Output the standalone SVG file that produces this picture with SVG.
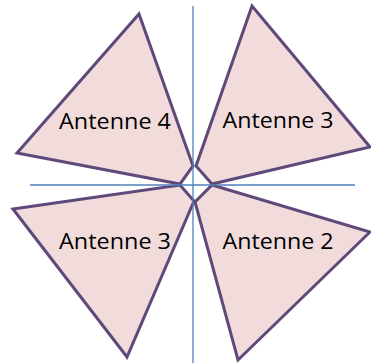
<svg xmlns="http://www.w3.org/2000/svg" width="371" height="363" viewBox="0 0 371 363">
<style>
.ant{fill:#F2DCDB;stroke:#5F497A;stroke-width:3;stroke-linejoin:miter}
.lbl{font-family:"Open Sans","Liberation Sans",sans-serif;font-size:22px;fill:#000;text-anchor:middle}
.axis{stroke:#4F81BD;stroke-width:1.3;fill:none}
</style>
<rect width="371" height="363" fill="#fff"/>
<g id="antenne4">
<polygon class="ant" points="139,14 193,166 180,184 17,153"/>
<text class="lbl" x="115" y="129" textLength="112" lengthAdjust="spacingAndGlyphs">Antenne 4</text>
</g>
<g id="antenne3-top">
<polygon class="ant" points="252,6 370,147 212,184 196,166"/>
<text class="lbl" x="278" y="128" textLength="111" lengthAdjust="spacingAndGlyphs">Antenne 3</text>
</g>
<g id="antenne3-bottom">
<polygon class="ant" points="13,209 180,185 194,201 127,357"/>
<text class="lbl" x="115" y="249" textLength="112" lengthAdjust="spacingAndGlyphs">Antenne 3</text>
</g>
<g id="antenne2">
<polygon class="ant" points="212,185 370,232 238,360 195,202"/>
<text class="lbl" x="278" y="249" textLength="111" lengthAdjust="spacingAndGlyphs">Antenne 2</text>
</g>
<g id="connectors">
<line class="axis" x1="193" y1="6" x2="193" y2="363"/>
<line class="axis" x1="30" y1="185" x2="355" y2="185"/>
</g>
</svg>
